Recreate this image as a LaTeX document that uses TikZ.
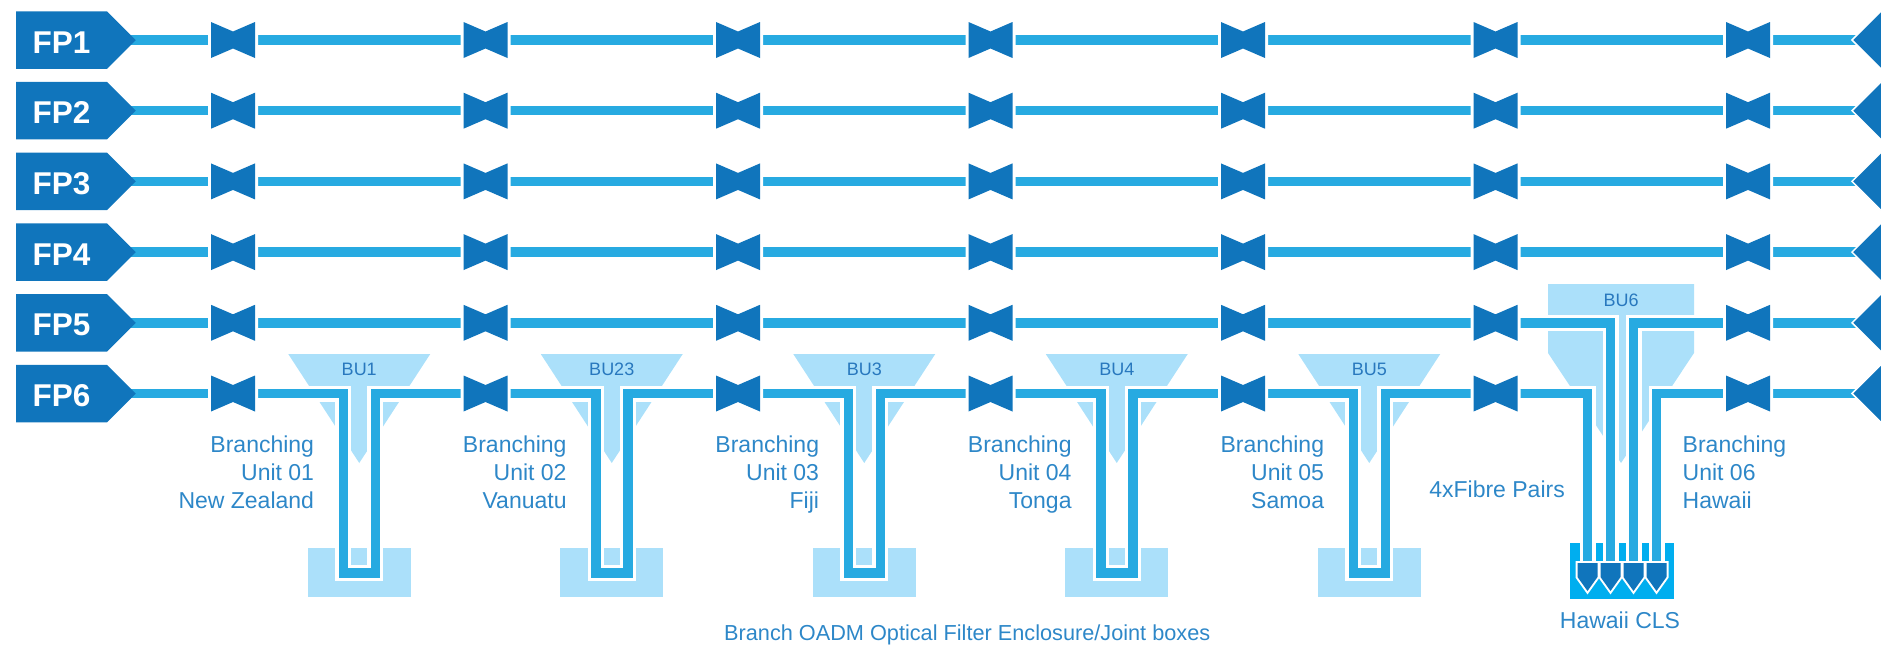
\documentclass[tikz,border=0pt]{standalone}
\usepackage{fontspec}
\setmainfont{Liberation Sans}
\definecolor{fpblue}{RGB}{16,117,188}
\definecolor{lineblue}{RGB}{39,170,225}
\definecolor{paleblue}{RGB}{171,224,250}
\definecolor{clsblue}{RGB}{0,174,239}
\definecolor{txtblue}{RGB}{45,135,200}
\definecolor{bublue}{RGB}{40,120,190}
\begin{document}
\begin{tikzpicture}[x=1pt,y=-1pt,
  fibre/.style={draw=lineblue, line width=9.5pt},
  casing/.style={draw=white, line width=16pt},
  funnel/.style={fill=paleblue},
  lbl/.style={text=txtblue, font=\fontsize{23}{28}\selectfont, inner sep=0pt},
  bulbl/.style={text=bublue, font=\fontsize{18}{20}\selectfont, inner sep=0pt},
  fplbl/.style={text=white, font=\bfseries\fontsize{31.5}{32}\selectfont, inner sep=0pt},
  bowtie/.pic={
    \path[fill=white, draw=white, line width=6pt, line join=miter]
      (-22,-18) -- (0,-8.5) -- (22,-18) -- (22,18) -- (0,8.5) -- (-22,18) -- cycle;
    \fill[fpblue]
      (-22,-18) -- (0,-8.5) -- (22,-18) -- (22,18) -- (0,8.5) -- (-22,18) -- cycle;
  },
  plug/.pic={
    \path[fill=white, draw=white, line width=4pt]
      (-10,0) -- (10,0) -- (10,14) -- (0,28) -- (-10,14) -- cycle;
    \fill[fpblue] (-10,0) -- (10,0) -- (10,14) -- (0,28) -- (-10,14) -- cycle;
  }
]
\useasboundingbox (0,0) rectangle (1881,646);
\def\yfive{322.8}
\def\ysix{393.5}

% ---------- pale blue funnels and joint boxes ----------
\foreach \c in {359.25,611.75,864.25,1116.75,1369.25}{
  \fill[funnel] (\c-71,354) -- (\c+71,354) -- (\c,463) -- cycle;
  \fill[funnel] (\c-51.5,548) rectangle (\c+51.5,597);
}
\fill[funnel] (1548,284) -- (1694,284) -- (1694,353) -- (1621,463) -- (1548,353) -- cycle;
\fill[clsblue] (1570,543) rectangle (1674,599);

% ---------- named coordinates ----------
\foreach \r/\y in {1/40,2/110.7,3/181.4,4/252.1,5/322.8,6/393.5}{
  \coordinate (s\r) at (130,\y);
  \coordinate (e\r) at (1856,\y);
}
\coordinate (L1) at (1587.5,570);
\coordinate (L2) at (1610.5,570);
\coordinate (L3) at (1633.5,570);
\coordinate (L4) at (1656.5,570);

% ---------- fibre lines (white casing, then blue) ----------
\foreach \sty in {casing,fibre}{
  \foreach \r in {1,2,3,4}{ \draw[\sty] (s\r) -- (e\r); }
  \draw[\sty] (s5) -| (L2);
  \draw[\sty] (L3) |- (e5);
  \draw[\sty] (s6)
    \foreach \c in {359.25,611.75,864.25,1116.75,1369.25}{
      -| (\c-16,573) -- (\c+16,573) -- (\c+16,\ysix)
    } -| (L1);
  \draw[\sty] (L4) |- (e6);
}

% ---------- CLS plugs ----------
\foreach \x in {1587.5,1610.5,1633.5,1656.5}{
  \pic at (\x,563) {plug};
}

% ---------- repeaters (bow ties) ----------
\foreach \r/\y in {1/40,2/110.7,3/181.4,4/252.1,5/322.8,6/393.5}{
  \foreach \k in {0,...,6}{
    \pic at (233+252.5*\k,\y) {bowtie};
  }
  % FP label
  \fill[fpblue] (16,\y-28.75) -- (107,\y-28.75) -- (135.75,\y) -- (107,\y+28.75) -- (16,\y+28.75) -- cycle;
  \node[fplbl, anchor=base] (fp\r) at (61.5,\y+13) {FP\r};
  % far-end label (cut by the edge)
  \path[fill=fpblue, draw=white, line width=1.5pt] (1852,\y) -- (1882,\y-30) -- (1882,\y+30) -- cycle;
}

% ---------- BU texts ----------
\foreach \c/\bu/\n/\place in {359.25/BU1/01/New Zealand,611.75/BU23/02/Vanuatu,864.25/BU3/03/Fiji,1116.75/BU4/04/Tonga,1369.25/BU5/05/Samoa}{
  \node[bulbl, anchor=base] (bu\n) at (\c,375.5) {\bu};
  \node[lbl, anchor=north east, align=right] (lab\n) at (\c-45,435.2) {Branching\\Unit \n\\\place};
}
\node[bulbl, anchor=base] (bu06) at (1621,306.5) {BU6};
\node[lbl, anchor=north west, align=left] (lab06) at (1682.5,435.2) {Branching\\Unit 06\\Hawaii};
\node[lbl, anchor=base east] (pairs) at (1565,497) {4xFibre Pairs};
\node[lbl, anchor=base] (cls) at (1620,628) {Hawaii CLS};
\node[lbl, font=\fontsize{21.7}{26}\selectfont, anchor=base west] (oadm) at (724,640) {Branch OADM Optical Filter Enclosure/Joint boxes};
\end{tikzpicture}
\end{document}
